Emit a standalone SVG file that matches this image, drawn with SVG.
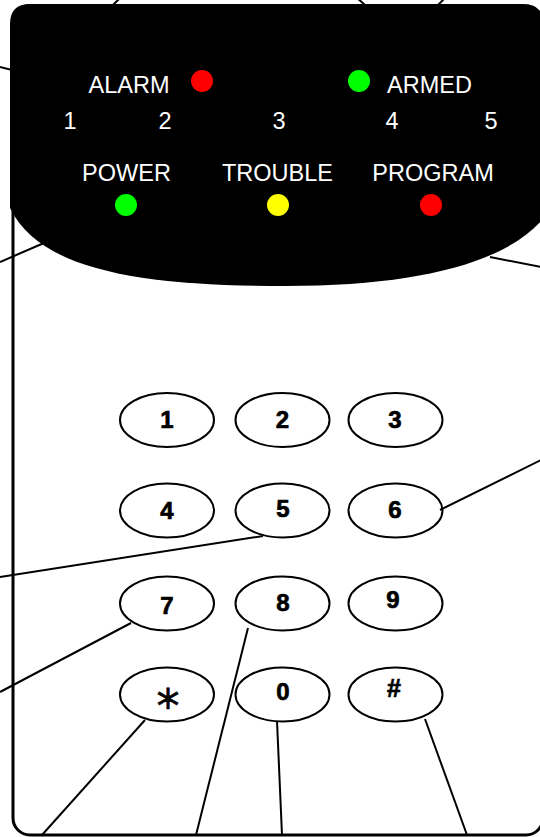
<svg xmlns="http://www.w3.org/2000/svg" width="540" height="837" viewBox="0 0 540 837">
<style>
.lbl{font-family:"Liberation Sans",Arial,sans-serif;font-size:23.5px;fill:#fff;text-anchor:middle}
.key{fill:#fff;stroke:#000;stroke-width:2}
.kt{font-family:"Liberation Sans",Arial,sans-serif;font-size:24px;font-weight:bold;fill:#000;stroke:#000;stroke-width:0.7;text-anchor:middle}
.ln{stroke:#000;stroke-width:2;fill:none}
</style>
<rect width="540" height="837" fill="#fff"/>
<g id="frame">
<rect x="13" y="6" width="530" height="829" rx="17" fill="#fff" stroke="#000" stroke-width="3"/>
</g>
<g id="panel">
<path d="M10,24 Q10,4 30,4 L522,4 Q542,4 542,24 L542,220 C505,262 420,286 285,286 C140,286 40,270 10,208 Z" fill="#000"/>
<text class="lbl" x="129" y="93">ALARM</text>
<circle cx="202" cy="81" r="11" fill="#ff0000"/>
<circle cx="359" cy="81" r="11" fill="#00ff00"/>
<text class="lbl" x="429.5" y="93">ARMED</text>
<text class="lbl" x="70" y="129">1</text>
<text class="lbl" x="165" y="129">2</text>
<text class="lbl" x="279" y="129">3</text>
<text class="lbl" x="392" y="129">4</text>
<text class="lbl" x="491" y="129">5</text>
<text class="lbl" x="126.5" y="181">POWER</text>
<text class="lbl" x="277.5" y="181">TROUBLE</text>
<text class="lbl" x="433" y="181">PROGRAM</text>
<circle cx="126" cy="205" r="11" fill="#00ff00"/>
<circle cx="278" cy="205" r="11" fill="#ffff00"/>
<circle cx="431" cy="205" r="11" fill="#ff0000"/>
</g>
<g id="key1"><ellipse class="key" cx="167" cy="420" rx="47" ry="27"/><text class="kt" x="167" y="428">1</text></g>
<g id="key2"><ellipse class="key" cx="282.5" cy="420" rx="47" ry="27"/><text class="kt" x="282.5" y="428">2</text></g>
<g id="key3"><ellipse class="key" cx="395.5" cy="420" rx="47" ry="27"/><text class="kt" x="395" y="428">3</text></g>
<g id="key4"><ellipse class="key" cx="167" cy="510.5" rx="47" ry="27"/><text class="kt" x="167" y="519">4</text></g>
<g id="key5"><ellipse class="key" cx="282.5" cy="510.5" rx="47" ry="27"/><text class="kt" x="283" y="517">5</text></g>
<g id="key6"><ellipse class="key" cx="395.5" cy="510.5" rx="47" ry="27"/><text class="kt" x="395" y="518">6</text></g>
<g id="key7"><ellipse class="key" cx="167" cy="603.5" rx="47" ry="27"/><text class="kt" x="167" y="614">7</text></g>
<g id="key8"><ellipse class="key" cx="282.5" cy="603.5" rx="47" ry="27"/><text class="kt" x="283" y="611">8</text></g>
<g id="key9"><ellipse class="key" cx="395.5" cy="603.5" rx="47" ry="27"/><text class="kt" x="393" y="608">9</text></g>
<g id="keystar"><ellipse class="key" cx="167" cy="694.5" rx="47" ry="27"/><text x="168" y="722" style="font-family:'DejaVu Sans',sans-serif;font-size:46px;text-anchor:middle;fill:#000;stroke:#000;stroke-width:0.6">*</text></g>
<g id="key0"><ellipse class="key" cx="282.5" cy="694.5" rx="47" ry="27"/><text class="kt" x="283" y="700">0</text></g>
<g id="keyhash"><ellipse class="key" cx="395.5" cy="694.5" rx="47" ry="27"/><text class="kt" x="394" y="697" style="font-size:25px">#</text></g>
<g id="connectors">
<line class="ln" x1="121" y1="-3" x2="113" y2="5"/>
<line class="ln" x1="356" y1="-3" x2="365" y2="5"/>
<line class="ln" x1="446" y1="-3" x2="438" y2="5"/>
<line class="ln" x1="0" y1="67" x2="12" y2="70"/>
<line class="ln" x1="0" y1="262" x2="44" y2="243"/>
<line class="ln" x1="490" y1="257" x2="541" y2="267"/>
<line class="ln" x1="440" y1="510" x2="541" y2="460"/>
<line class="ln" x1="263" y1="536" x2="0" y2="577"/>
<line class="ln" x1="131" y1="623" x2="0" y2="692"/>
<line class="ln" x1="145" y1="720" x2="42" y2="835"/>
<line class="ln" x1="248" y1="628" x2="196" y2="835"/>
<line class="ln" x1="277" y1="721" x2="282" y2="835"/>
<line class="ln" x1="425" y1="719" x2="467" y2="835"/>
</g>
</svg>
